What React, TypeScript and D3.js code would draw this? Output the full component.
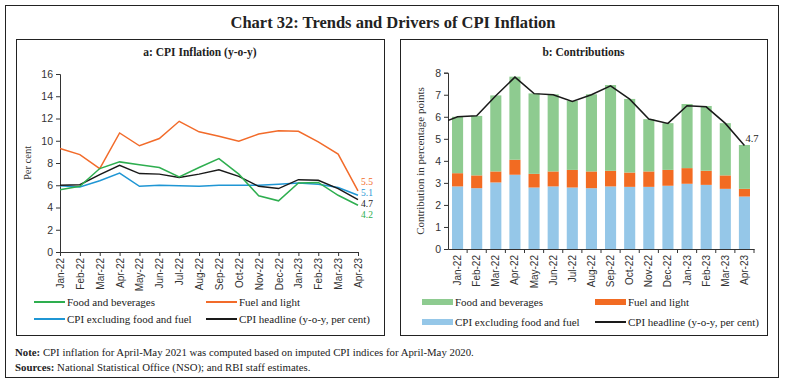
import React, { useEffect, useRef } from "react";
import * as d3 from "d3";

// months on the x axis
const months = [
  "Jan-22", "Feb-22", "Mar-22", "Apr-22", "May-22", "Jun-22", "Jul-22", "Aug-22",
  "Sep-22", "Oct-22", "Nov-22", "Dec-22", "Jan-23", "Feb-23", "Mar-23", "Apr-23",
];

// panel a: y-o-y inflation, per cent
const foodBev = [5.6, 5.9, 7.5, 8.1, 7.85, 7.6, 6.75, 7.6, 8.4, 7.0, 5.05, 4.6, 6.2, 6.25, 5.1, 4.2];
const fuelLight = [9.3, 8.75, 7.5, 10.7, 9.55, 10.2, 11.75, 10.8, 10.4, 9.95, 10.6, 10.9, 10.85, 9.9, 8.8, 5.5];
const coreCpi = [5.95, 5.85, 6.4, 7.1, 5.9, 6.0, 5.95, 5.9, 6.0, 6.0, 6.0, 6.1, 6.2, 6.1, 5.8, 5.1];
const headline = [6.0, 6.05, 6.95, 7.8, 7.05, 7.0, 6.7, 7.0, 7.4, 6.8, 5.9, 5.7, 6.5, 6.45, 5.7, 4.7];
const headlineDec21 = 5.66; // previous month, only the first segment shows in panel b

// panel b: contributions, percentage points
const contribCore = [2.84, 2.76, 3.02, 3.37, 2.79, 2.84, 2.79, 2.76, 2.84, 2.82, 2.82, 2.87, 2.96, 2.91, 2.73, 2.38];
const contribFuel = [0.6, 0.58, 0.5, 0.68, 0.62, 0.68, 0.8, 0.76, 0.71, 0.65, 0.7, 0.72, 0.71, 0.64, 0.61, 0.35];
const contribFood = [2.56, 2.7, 3.45, 3.77, 3.65, 3.5, 3.13, 3.5, 3.89, 3.34, 2.37, 2.12, 2.91, 2.94, 2.37, 1.99];

const yTicksA = [0, 2, 4, 6, 8, 10, 12, 14, 16];
const yTicksB = [0, 1, 2, 3, 4, 5, 6, 7, 8];

const FONT = "'Liberation Serif', 'DejaVu Serif', serif";

const App = () => {
  const svgRef = useRef<SVGSVGElement>(null);

  useEffect(() => {
    const svg = d3.select(svgRef.current);
    svg.selectAll("*").remove();
    svg.style("font-family", FONT);

    const W = 785;
    const H = 384;

    // outer frame + title
    svg.append("rect").attr("width", W).attr("height", H).attr("fill", "white");
    svg
      .append("rect")
      .attr("x", 5.5)
      .attr("y", 5.5)
      .attr("width", 773)
      .attr("height", 372)
      .attr("fill", "none")
      .attr("stroke", "#222")
      .attr("stroke-width", 1);
    svg
      .append("text")
      .attr("x", 393)
      .attr("y", 28)
      .attr("text-anchor", "middle")
      .style("font-size", "16.5px")
      .style("font-weight", "bold")
      .attr("fill", "#222")
      .text("Chart 32: Trends and Drivers of CPI Inflation");

    // panel frames
    const panels = [
      { x: 16, w: 368, title: "a: CPI  Inflation (y-o-y)" },
      { x: 400, w: 367, title: "b: Contributions" },
    ];
    panels.forEach((p) => {
      svg
        .append("rect")
        .attr("x", p.x + 0.5)
        .attr("y", 39.5)
        .attr("width", p.w)
        .attr("height", 296)
        .attr("fill", "none")
        .attr("stroke", "#222");
      svg
        .append("text")
        .attr("x", p.x + p.w / 2)
        .attr("y", 56)
        .attr("text-anchor", "middle")
        .style("font-size", "11.5px")
        .style("font-weight", "bold")
        .attr("fill", "#222")
        .text(p.title);
    });

    // ---------- panel a ----------
    const xA = d3.scalePoint().domain(months).range([60, 358]);
    const yA = d3.scaleLinear().domain([0, 16]).range([252, 74]);
    const gA = svg.append("g");

    gA.append("g")
      .attr("transform", "translate(60,0)")
      .call(d3.axisLeft(yA).tickValues(yTicksA).tickSize(4).tickFormat(d3.format("d")))
      .call((g) => g.selectAll("text").style("font-size", "10.5px").attr("fill", "#333"));
    gA.append("g")
      .attr("transform", "translate(0,252)")
      .call(d3.axisBottom(xA).tickSize(4).tickSizeOuter(0))
      .call((g) =>
        g
          .selectAll("text")
          .attr("transform", "rotate(-90)")
          .attr("x", -6)
          .attr("y", 0)
          .attr("dy", "0.35em")
          .style("text-anchor", "end")
          .style("font-size", "10px")
          .attr("fill", "#333")
      );
    gA.selectAll(".domain, .tick line").attr("stroke", "#333");

    gA.append("text")
      .attr("transform", "translate(31,163) rotate(-90)")
      .attr("text-anchor", "middle")
      .style("font-size", "10.5px")
      .attr("fill", "#333")
      .text("Per cent");

    const seriesA = [
      { values: fuelLight, color: "#f26b2a" },
      { values: coreCpi, color: "#1f96d4" },
      { values: headline, color: "#1a1a1a" },
      { values: foodBev, color: "#2eae4f" },
    ];
    const lineA = d3
      .line<number>()
      .x((_, i) => xA(months[i]) as number)
      .y((d) => yA(d));
    seriesA.forEach((s) => {
      gA.append("path")
        .datum(s.values)
        .attr("d", lineA)
        .attr("fill", "none")
        .attr("stroke", s.color)
        .attr("stroke-width", 1.5);
    });
    // end labels, stacked to the right of the last points
    const last = months.length - 1;
    const endLabelsA = [
      { v: fuelLight[last], color: "#f26b2a", y: 185 },
      { v: coreCpi[last], color: "#1f96d4", y: 196 },
      { v: headline[last], color: "#1a1a1a", y: 207 },
      { v: foodBev[last], color: "#2eae4f", y: 218 },
    ];
    endLabelsA.forEach((l) => {
      gA.append("text")
        .attr("x", 361)
        .attr("y", l.y)
        .style("font-size", "9.5px")
        .attr("fill", l.color)
        .text(l.v.toFixed(1));
    });

    // legend a
    const legA = [
      { label: "Food and beverages", color: "#2eae4f", x: 34, y: 302 },
      { label: "Fuel and light", color: "#f26b2a", x: 206, y: 302 },
      { label: "CPI excluding food and fuel", color: "#1f96d4", x: 34, y: 319 },
      { label: "CPI headline (y-o-y, per cent)", color: "#1a1a1a", x: 206, y: 319 },
    ];
    legA.forEach((l) => {
      gA.append("line")
        .attr("x1", l.x)
        .attr("x2", l.x + 31)
        .attr("y1", l.y)
        .attr("y2", l.y)
        .attr("stroke", l.color)
        .attr("stroke-width", 2);
      gA.append("text")
        .attr("x", l.x + 33)
        .attr("y", l.y)
        .attr("dy", "0.35em")
        .style("font-size", "11px")
        .attr("fill", "#222")
        .text(l.label);
    });

    // ---------- panel b ----------
    const xB = d3.scaleBand().domain(months).range([448, 754]).paddingInner(0.42).paddingOuter(0.21);
    const yB = d3.scaleLinear().domain([0, 8]).range([249, 72.7]);
    const gB = svg.append("g");

    const rows = months.map((m, i) => ({
      month: m,
      core: contribCore[i],
      fuel: contribFuel[i],
      food: contribFood[i],
    }));
    const keys = ["core", "fuel", "food"];
    const barColors: Record<string, string> = {
      core: "#95c7e8",
      fuel: "#f26b22",
      food: "#8ecb90",
    };
    const stacked = d3.stack<any>().keys(keys)(rows);
    gB.append("g")
      .selectAll("g")
      .data(stacked)
      .join("g")
      .attr("fill", (d) => barColors[d.key])
      .selectAll("rect")
      .data((d) => d)
      .join("rect")
      .attr("x", (d) => xB(d.data.month) as number)
      .attr("width", xB.bandwidth())
      .attr("y", (d) => yB(d[1]))
      .attr("height", (d) => yB(d[0]) - yB(d[1]));

    gB.append("g")
      .attr("transform", "translate(448,0)")
      .call(d3.axisLeft(yB).tickValues(yTicksB).tickSize(4).tickFormat(d3.format("d")))
      .call((g) => g.selectAll("text").style("font-size", "10.5px").attr("fill", "#333"));
    const xAxisB = gB
      .append("g")
      .attr("transform", "translate(0,249)")
      .call(d3.axisBottom(xB).tickSize(0).tickSizeOuter(0))
      .call((g) =>
        g
          .selectAll("text")
          .attr("transform", "rotate(-90)")
          .attr("x", -6)
          .attr("y", 0)
          .attr("dy", "0.35em")
          .style("text-anchor", "end")
          .style("font-size", "10px")
          .attr("fill", "#333")
      );
    // tick marks between bars
    xAxisB
      .selectAll("line.sep")
      .data(months)
      .join("line")
      .attr("class", "sep")
      .attr("x1", (m) => (xB(m) as number) + xB.bandwidth() + (xB.step() - xB.bandwidth()) / 2)
      .attr("x2", (m) => (xB(m) as number) + xB.bandwidth() + (xB.step() - xB.bandwidth()) / 2)
      .attr("y1", 0)
      .attr("y2", 4)
      .attr("stroke", "#333");
    gB.selectAll(".domain, .tick line").attr("stroke", "#333");

    gB.append("text")
      .attr("transform", "translate(424,161) rotate(-90)")
      .attr("text-anchor", "middle")
      .style("font-size", "11px")
      .attr("fill", "#333")
      .text("Contribution in percentage points");

    // headline line, clipped to plot area
    svg
      .append("defs")
      .append("clipPath")
      .attr("id", "clipB")
      .append("rect")
      .attr("x", 448)
      .attr("y", 60)
      .attr("width", 320)
      .attr("height", 200);
    const headPts = [headlineDec21, ...headline].map((v, i) => ({
      x: i === 0 ? (xB(months[0]) as number) + xB.bandwidth() / 2 - xB.step() : (xB(months[i - 1]) as number) + xB.bandwidth() / 2,
      v,
    }));
    gB.append("path")
      .datum(headPts)
      .attr("clip-path", "url(#clipB)")
      .attr(
        "d",
        d3
          .line<{ x: number; v: number }>()
          .x((d) => d.x)
          .y((d) => yB(d.v))
      )
      .attr("fill", "none")
      .attr("stroke", "#1a1a1a")
      .attr("stroke-width", 1.5);
    gB.append("text")
      .attr("x", (xB(months[last]) as number) + xB.bandwidth() / 2 + 1)
      .attr("y", yB(headline[last]) - 3)
      .style("font-size", "10.5px")
      .attr("fill", "#222")
      .text(headline[last].toFixed(1));

    // legend b
    const legB = [
      { label: "Food and beverages", color: "#8ecb90", x: 422, y: 302, patch: true },
      { label: "Fuel and light", color: "#f26b22", x: 595, y: 302, patch: true },
      { label: "CPI excluding food and fuel", color: "#95c7e8", x: 422, y: 322, patch: true },
      { label: "CPI headline (y-o-y, per cent)", color: "#1a1a1a", x: 595, y: 322, patch: false },
    ];
    legB.forEach((l) => {
      if (l.patch) {
        gB.append("rect")
          .attr("x", l.x)
          .attr("y", l.y - 3)
          .attr("width", 31)
          .attr("height", 6)
          .attr("fill", l.color);
      } else {
        gB.append("line")
          .attr("x1", l.x)
          .attr("x2", l.x + 31)
          .attr("y1", l.y)
          .attr("y2", l.y)
          .attr("stroke", l.color)
          .attr("stroke-width", 2);
      }
      gB.append("text")
        .attr("x", l.x + 33)
        .attr("y", l.y)
        .attr("dy", "0.35em")
        .style("font-size", "11px")
        .attr("fill", "#222")
        .text(l.label);
    });

    // notes
    const note = svg.append("text").attr("x", 15).attr("y", 356).style("font-size", "10.8px").attr("fill", "#222");
    note.append("tspan").style("font-weight", "bold").text("Note: ");
    note.append("tspan").text("CPI inflation for April-May 2021 was computed based on imputed CPI indices for April-May 2020.");
    const src = svg.append("text").attr("x", 15).attr("y", 371).style("font-size", "10.8px").attr("fill", "#222");
    src.append("tspan").style("font-weight", "bold").text("Sources: ");
    src.append("tspan").text("National Statistical Office (NSO); and RBI staff estimates.");
  }, []);

  return (
    <svg
      ref={svgRef}
      width={785}
      height={384}
      style={{ position: "absolute", left: 0, top: 0, display: "block" }}
    />
  );
};

export default App;
